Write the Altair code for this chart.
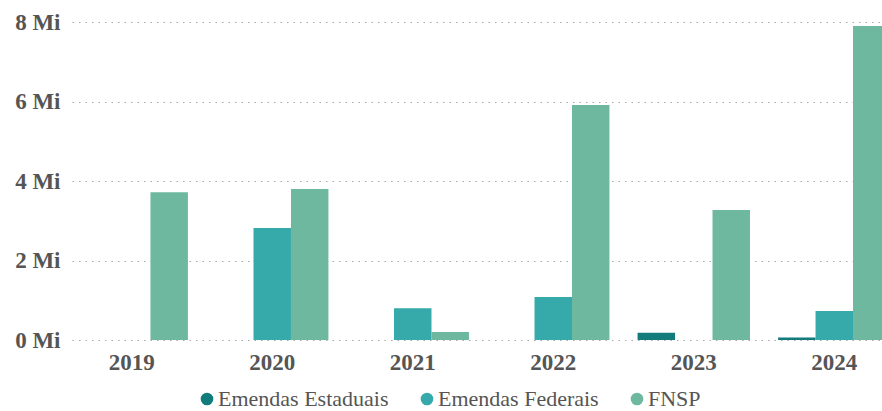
import altair as alt
import pandas as pd

years = ["2019", "2020", "2021", "2022", "2023", "2024"]
series = ["Emendas Estaduais", "Emendas Federais", "FNSP"]
estaduais = [0.0, 0.0, 0.0, 0.0, 0.18, 0.06]
federais = [0.0, 2.82, 0.80, 1.08, 0.0, 0.73]
fnsp = [3.72, 3.80, 0.20, 5.91, 3.27, 7.90]
colors = ["#127B7C", "#36A9AA", "#6EB8A0"]

rows = []
for i, y in enumerate(years):
    for s, vals in zip(series, [estaduais, federais, fnsp]):
        rows.append({"Ano": y, "Série": s, "Valor": vals[i]})
df = pd.DataFrame(rows)

FONT = "Liberation Serif, 'Times New Roman', 'DejaVu Serif', serif"

chart = alt.Chart(df).mark_bar().encode(
    x=alt.X("Ano:N", sort=years,
            scale=alt.Scale(range=[0, 822], paddingInner=0.2, paddingOuter=0.025),
            axis=alt.Axis(title=None, labelAngle=0, domain=False, ticks=False,
                          labelFont=FONT, labelFontSize=23, labelFontWeight="bold",
                          labelColor="#555555", labelPadding=11, grid=False)),
    xOffset=alt.XOffset("Série:N", sort=series, scale=alt.Scale(paddingInner=0, paddingOuter=0)),
    y=alt.Y("Valor:Q", scale=alt.Scale(domain=[0, 8], nice=False),
            axis=alt.Axis(title=None, values=[0, 2, 4, 6, 8], labelExpr="datum.value + ' Mi'",
                          domain=False, ticks=False, labelFont=FONT, labelFontSize=23,
                          labelFontWeight="bold", labelColor="#555555", labelPadding=12,
                          grid=True, gridDash=[1.5, 5], gridColor="#A8A8A8", gridWidth=1.2)),
    color=alt.Color("Série:N", sort=series,
                    scale=alt.Scale(domain=series, range=colors),
                    legend=alt.Legend(title=None, orient="none", direction="horizontal",
                                      legendX=124, legendY=366, symbolType="circle",
                                      symbolSize=160, symbolStrokeWidth=0, symbolOpacity=1,
                                      labelFont=FONT, labelFontSize=22, labelColor="#555555",
                                      labelLimit=400, labelOffset=0, columnPadding=27)),
).properties(
    width=810, height=318,
    padding={"left": 72, "top": 22, "right": 0, "bottom": 71},
    autosize=alt.AutoSizeParams(type="none"),
).configure(
    background="white", font=FONT,
    view=alt.ViewConfig(stroke=None),
)

chart.save("out.html", embed_options={"renderer": "svg", "actions": False})
